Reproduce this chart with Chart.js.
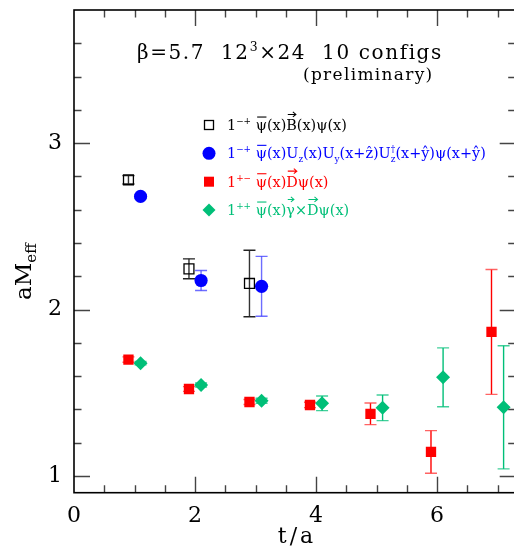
<!DOCTYPE html>
<html><head><meta charset="utf-8">
<script src="https://cdn.jsdelivr.net/npm/chart.js@4/dist/chart.umd.min.js"></script>
<style>html,body{margin:0;padding:0;overflow:hidden;background:#fff;width:514px;height:548px}canvas{display:block}</style>
</head><body><canvas id="c" width="524" height="548"></canvas>
<script>
// ---- data ----
const xTickLabels = [0, 2, 4, 6];
const yTickLabels = [1, 2, 3];

const tB = [0.9, 1.9, 2.9];
const mB = [2.78, 2.245, 2.157];
const eB = [0.025, 0.06, 0.2];

const tU = [1.1, 2.1, 3.1];
const mU = [2.68, 2.175, 2.14];
const eU = [0.01, 0.06, 0.18];

const tD = [0.9, 1.9, 2.9, 3.9, 4.9, 5.9, 6.9];
const mD = [1.70, 1.523, 1.445, 1.427, 1.374, 1.145, 1.866];
const eD = [0.016, 0.014, 0.015, 0.016, 0.065, 0.128, 0.375];

const tG = [1.1, 2.1, 3.1, 4.1, 5.1, 6.1, 7.1];
const mG = [1.678, 1.547, 1.452, 1.437, 1.41, 1.593, 1.413];
const eG = [0.01, 0.012, 0.015, 0.044, 0.077, 0.177, 0.37];

const titleText = ['β=5.7  12', '3', '×24  10 configs'];
const subtitleText = '(preliminary)';
const xAxisTitle = 't/a';
const yAxisTitle = ['aM', 'eff'];

const S = (t, o = {}) => Object.assign({ t }, o);
const legendRows = [
  [S('1'), S('−+', {sup:1}), S(' '), S('ψ', {bar:1}), S('(x)'), S('B', {vec:1}), S('(x)ψ(x)')],
  [S('1'), S('−+', {sup:1}), S(' '), S('ψ', {bar:1}), S('(x)U'), S('z', {sub:1}), S('(x)U'), S('y', {sub:1}),
   S('(x+ẑ)U'), S('†', {sup:1, keep:1}), S('z', {sub:1}), S('(x+ŷ)ψ(x+ŷ)')],
  [S('1'), S('+−', {sup:1}), S(' '), S('ψ', {bar:1}), S('(x)'), S('D', {vec:1}), S('ψ(x)')],
  [S('1'), S('++', {sup:1}), S(' '), S('ψ', {bar:1}), S('(x)'), S('γ', {vec:1}), S('×'), S('D', {vec:1}), S('ψ(x)')]
];

// ---- styles ----
const SERIF = '"DejaVu Serif", serif';
const BLUE = '#0000ff', RED = '#ff0000', GREEN = '#00bf78', BLACK = '#000000';

const mk = (t, m) => t.map((v, i) => ({ x: v, y: m[i] }));

function rich(ctx, x, y, segs, size, color, spacing = 0) {
  ctx.save();
  ctx.fillStyle = color; ctx.strokeStyle = color;
  ctx.textBaseline = 'alphabetic'; ctx.textAlign = 'left';
  ctx.letterSpacing = spacing + 'px';
  for (const s of segs) {
    const small = s.sup || s.sub;
    const fs = small ? size * 0.62 : size;
    ctx.font = fs + 'px ' + SERIF;
    const dy = s.sup ? -size * 0.42 : (s.sub ? size * 0.25 : 0);
    ctx.fillText(s.t, x, y + dy);
    const w = ctx.measureText(s.t).width;
    if (s.bar) {
      ctx.lineWidth = 1.1;
      ctx.beginPath(); ctx.moveTo(x + 1.5, y - size * 0.9); ctx.lineTo(x + w - 0.5 - spacing, y - size * 0.9); ctx.stroke();
    }
    if (s.vec) {
      const yy = y - size * 1.08;
      const r = x + w - spacing;
      ctx.lineWidth = 1.1;
      ctx.beginPath();
      ctx.moveTo(x + 1.5, yy); ctx.lineTo(r - 1, yy);
      ctx.moveTo(r - 4, yy - 2.5); ctx.lineTo(r - 1, yy); ctx.lineTo(r - 4, yy + 2.5);
      ctx.stroke();
    }
    if (!s.keep) x += w;
  }
  ctx.restore();
  return x;
}

function drawSymbol(ctx, kind, x, y, color) {
  ctx.save();
  ctx.fillStyle = color; ctx.strokeStyle = color; ctx.lineWidth = 1.3;
  if (kind === 'sqOpen') { ctx.strokeRect(x - 4.5, y - 4.5, 9, 9); }
  else if (kind === 'circle') { ctx.beginPath(); ctx.arc(x, y, 6.5, 0, Math.PI * 2); ctx.fill(); }
  else if (kind === 'sq') { ctx.fillRect(x - 5, y - 5, 10, 10); }
  else if (kind === 'diamond') { ctx.beginPath(); ctx.moveTo(x, y - 6.5); ctx.lineTo(x + 6.5, y); ctx.lineTo(x, y + 6.5); ctx.lineTo(x - 6.5, y); ctx.closePath(); ctx.fill(); }
  ctx.restore();
}

const legendSymbols = [['sqOpen', BLACK], ['circle', BLUE], ['sq', RED], ['diamond', GREEN]];

const decor = {
  id: 'decor',
  beforeDatasetsDraw(chart) {
    const { ctx, scales: { x, y } } = chart;
    ctx.save();
    chart.data.datasets.forEach(ds => {
      ds.data.forEach((p, i) => {
        const e = ds.err[i];
        const px = x.getPixelForValue(p.x);
        const y1 = y.getPixelForValue(p.y + e), y2 = y.getPixelForValue(p.y - e);
        ctx.lineWidth = 1.4;
        ctx.strokeStyle = ds.errColor;
        ctx.beginPath(); ctx.moveTo(px, y1); ctx.lineTo(px, y2); ctx.stroke();
        ctx.strokeStyle = ds.capColor;
        ctx.beginPath(); ctx.moveTo(px - 6, y1); ctx.lineTo(px + 6, y1); ctx.moveTo(px - 6, y2); ctx.lineTo(px + 6, y2); ctx.stroke();
      });
    });
    ctx.restore();
  },
  afterDraw(chart) {
    const { ctx, chartArea: a, scales: { x, y } } = chart;
    ctx.save();
    // tick marks (inward, all four sides)
    ctx.strokeStyle = '#444'; ctx.lineWidth = 1.4;
    ctx.beginPath();
    for (let k = 1; k <= 14; k++) {
      const v = k * 0.5, px = Math.round(x.getPixelForValue(v)) + 0.5;
      const len = (k % 4 === 0) ? 16 : 7.5;
      ctx.moveTo(px, a.bottom); ctx.lineTo(px, a.bottom - len);
      ctx.moveTo(px, a.top); ctx.lineTo(px, a.top + len);
    }
    for (let k = 5; k <= 18; k++) {
      const v = k * 0.2, py = Math.round(y.getPixelForValue(v)) + 0.5;
      const len = (k % 5 === 0) ? 16 : 7.5;
      ctx.moveTo(a.left, py); ctx.lineTo(a.left + len, py);
      ctx.moveTo(a.right, py); ctx.lineTo(a.right - len, py);
    }
    ctx.stroke();
    // frame
    ctx.strokeStyle = '#000'; ctx.lineWidth = 1.6;
    ctx.strokeRect(a.left, a.top, a.right - a.left, a.bottom - a.top);

    // axis titles
    ctx.fillStyle = '#000';
    ctx.font = '22px ' + SERIF;
    ctx.textAlign = 'center'; ctx.textBaseline = 'alphabetic';
    ctx.letterSpacing = '3px';
    ctx.fillText(xAxisTitle, 297, 543);
    ctx.letterSpacing = '0px';
    ctx.save();
    ctx.translate(31, 300);
    ctx.rotate(-Math.PI / 2);
    ctx.textAlign = 'left';
    ctx.font = '23px ' + SERIF;
    ctx.fillText(yAxisTitle[0], 0, 0);
    const w0 = ctx.measureText(yAxisTitle[0]).width;
    ctx.font = '15px ' + SERIF;
    ctx.fillText(yAxisTitle[1], w0, 5);
    ctx.restore();

    // title
    rich(ctx, 137, 59, [S(titleText[0]), S(titleText[1], {sup:1}), S(titleText[2])], 20, '#000', 1.6);
    ctx.font = '17px ' + SERIF;
    ctx.textAlign = 'left';
    ctx.letterSpacing = '1.3px';
    ctx.fillText(subtitleText, 303, 80);
    ctx.letterSpacing = '0px';

    // legend
    const symY = [125, 153.3, 181.7, 210];
    const colors = [BLACK, BLUE, RED, GREEN];
    legendRows.forEach((segs, i) => {
      drawSymbol(ctx, legendSymbols[i][0], 209, symY[i], legendSymbols[i][1]);
      rich(ctx, 227, symY[i] + 5, segs, 14.4, colors[i]);
    });
    ctx.restore();
  }
};

new Chart(document.getElementById('c'), {
  type: 'scatter',
  data: {
    datasets: [
      { label: 'B', data: mk(tB, mB), err: eB, errColor: '#333', capColor: '#222',
        pointStyle: 'rect', pointRadius: 7, pointBackgroundColor: 'rgba(255,255,255,0)', pointBorderColor: BLACK, pointBorderWidth: 1.3 },
      { label: 'U', data: mk(tU, mU), err: eU, errColor: 'rgba(60,60,255,0.75)', capColor: 'rgba(60,60,255,0.75)',
        pointStyle: 'circle', pointRadius: 6.6, pointBackgroundColor: BLUE, pointBorderColor: BLUE, pointBorderWidth: 0 },
      { label: 'D', data: mk(tD, mD), err: eD, errColor: RED, capColor: 'rgba(255,60,60,0.8)',
        pointStyle: 'rect', pointRadius: 7.3, pointBackgroundColor: RED, pointBorderColor: RED, pointBorderWidth: 0 },
      { label: 'G', data: mk(tG, mG), err: eG, errColor: GREEN, capColor: 'rgba(0,191,120,0.75)',
        pointStyle: 'rectRot', pointRadius: 7, pointBackgroundColor: GREEN, pointBorderColor: GREEN, pointBorderWidth: 0 }
    ]
  },
  options: {
    responsive: false,
    animation: false,
    devicePixelRatio: 1,
    events: [],
    layout: { padding: { top: 10, right: 5.5, left: 0, bottom: 0 } },
    plugins: { legend: { display: false }, tooltip: { enabled: false }, title: { display: false } },
    scales: {
      x: {
        type: 'linear', position: 'bottom', min: 0, max: 7.3,
        afterBuildTicks: s => { s.ticks = xTickLabels.map(v => ({ value: v })); },
        afterFit: s => { s.height = 55.3; s.paddingLeft = 0; s.paddingRight = 0; s.paddingTop = 0; s.paddingBottom = 0; },
        grid: { display: false, drawTicks: false },
        border: { display: false },
        ticks: { color: '#000', font: { family: SERIF, size: 22 }, padding: 10, maxRotation: 0, autoSkip: false }
      },
      y: {
        type: 'linear', position: 'left', min: 0.9, max: 3.8,
        afterBuildTicks: s => { s.ticks = yTickLabels.map(v => ({ value: v })); },
        afterFit: s => { s.width = 74; s.paddingLeft = 0; s.paddingRight = 0; s.paddingTop = 0; s.paddingBottom = 0; },
        grid: { display: false, drawTicks: false },
        border: { display: false },
        ticks: { color: '#000', font: { family: SERIF, size: 22 }, padding: 12, autoSkip: false }
      }
    }
  },
  plugins: [decor]
});
</script>
</body></html>
